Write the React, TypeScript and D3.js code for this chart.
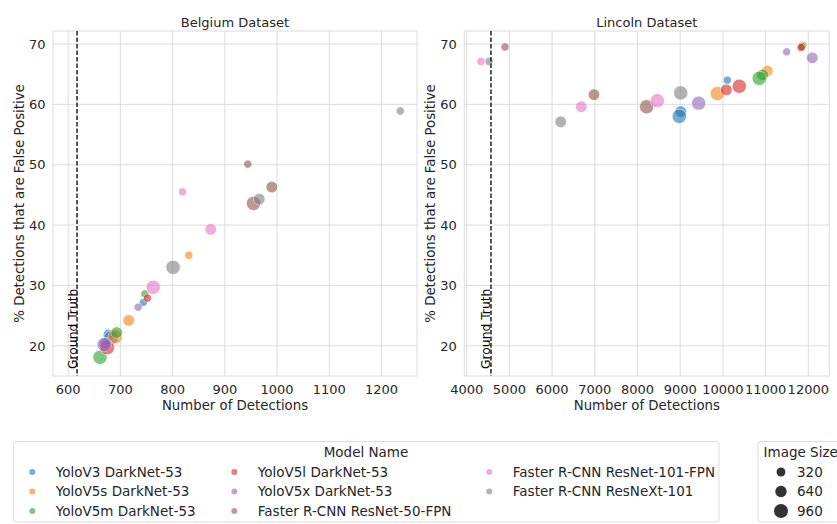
import React, { useEffect, useRef } from "react";
import * as d3 from "d3";

// Model names, legend order
const models = [
	"YoloV3 DarkNet-53",
	"YoloV5s DarkNet-53",
	"YoloV5m DarkNet-53",
	"YoloV5l DarkNet-53",
	"YoloV5x DarkNet-53",
	"Faster R-CNN ResNet-50-FPN",
	"Faster R-CNN ResNet-101-FPN",
	"Faster R-CNN ResNeXt-101",
];
const modelColors = ["#1f77b4", "#ff7f0e", "#2ca02c", "#d62728", "#9467bd", "#8c564b", "#e377c2", "#7f7f7f"];
const imageSizes = [320, 640, 960];

// Values per model, one entry per image size (320, 640, 960)
const belgiumDetections = [
	[744, 678, 682],
	[831, 716, 690],
	[747, 693, 661],
	[752, 672, 675],
	[734, 671, 669],
	[944, 990, 955],
	[819, 873, 763],
	[1236, 966, 801],
];
const belgiumFalsePos = [
	[27.2, 21.8, 21.3],
	[35.0, 24.2, 21.5],
	[28.6, 22.2, 18.1],
	[27.9, 20.0, 19.7],
	[26.4, 20.4, 20.2],
	[50.1, 46.3, 43.6],
	[45.5, 39.3, 29.7],
	[58.9, 44.3, 33.0],
];
const lincolnDetections = [
	[10103, 9012, 8979],
	[11876, 11040, 9869],
	[11852, 10932, 10852],
	[11830, 10080, 10384],
	[11494, 12094, 9433],
	[4897, 6981, 8215],
	[4335, 6684, 8464],
	[4522, 6201, 9012],
];
const lincolnFalsePos = [
	[64.0, 58.8, 58.0],
	[69.8, 65.5, 61.8],
	[69.6, 64.9, 64.3],
	[69.4, 62.4, 63.0],
	[68.7, 67.7, 60.2],
	[69.5, 61.6, 59.6],
	[67.1, 59.6, 60.6],
	[67.1, 57.1, 61.9],
];

const belgiumTruth = 617;
const lincolnTruth = 4569;

const belgiumTicks = [600, 700, 800, 900, 1000, 1100, 1200];
const lincolnTicks = [4000, 5000, 6000, 7000, 8000, 9000, 10000, 11000, 12000];
const yTicks = [20, 30, 40, 50, 60, 70];

const FONT = "DejaVu Sans, sans-serif";
const TEXT = "#262626";
const GRID = "#dcdcdc";

export default function App() {
	const ref = useRef<HTMLDivElement>(null);

	useEffect(() => {
		const w = 837;
		const h = 524;

		const svg = d3
			.select(ref.current)
			.html("")
			.append("svg")
			.attr("width", w)
			.attr("height", h)
			.style("display", "block")
			.style("background", "#fff")
			.style("font-family", FONT);

		const color = d3.scaleOrdinal<string, string>().domain(models).range(modelColors);
		const radius = d3.scaleSqrt().domain([0, 960]).range([0, 7.2]);
		const y = d3.scaleLinear().domain([15.0, 72.15]).range([376, 31]);

		const panels = [
			{
				title: "Belgium Dataset",
				x: d3.scaleLinear().domain([571, 1268]).range([53, 417]),
				ticks: belgiumTicks,
				det: belgiumDetections,
				fp: belgiumFalsePos,
				truth: belgiumTruth,
			},
			{
				title: "Lincoln Dataset",
				x: d3.scaleLinear().domain([3944, 12492]).range([464.3, 829.3]),
				ticks: lincolnTicks,
				det: lincolnDetections,
				fp: lincolnFalsePos,
				truth: lincolnTruth,
			},
		];

		panels.forEach((p) => {
			const [x0, x1] = p.x.range();
			const [y1, y0] = y.range();
			const g = svg.append("g");

			// grid
			g.selectAll(".vgrid")
				.data(p.ticks)
				.join("line")
				.attr("x1", (d) => p.x(d))
				.attr("x2", (d) => p.x(d))
				.attr("y1", y0)
				.attr("y2", y1)
				.attr("stroke", GRID)
				.attr("stroke-width", 1);
			g.selectAll(".hgrid")
				.data(yTicks)
				.join("line")
				.attr("x1", x0)
				.attr("x2", x1)
				.attr("y1", (d) => y(d))
				.attr("y2", (d) => y(d))
				.attr("stroke", GRID)
				.attr("stroke-width", 1);

			// frame
			g.append("rect")
				.attr("x", x0)
				.attr("y", y0)
				.attr("width", x1 - x0)
				.attr("height", y1 - y0)
				.attr("fill", "none")
				.attr("stroke", GRID)
				.attr("stroke-width", 1);

			// tick labels
			g.selectAll(".xt")
				.data(p.ticks)
				.join("text")
				.attr("x", (d) => p.x(d))
				.attr("y", 393.5)
				.attr("text-anchor", "middle")
				.attr("fill", TEXT)
				.style("font-size", "13px")
				.text((d) => String(d));
			g.selectAll(".yt")
				.data(yTicks)
				.join("text")
				.attr("x", x0 - 7.5)
				.attr("y", (d) => y(d) + 4.7)
				.attr("text-anchor", "end")
				.attr("fill", TEXT)
				.style("font-size", "13px")
				.text((d) => String(d));

			// axis labels
			g.append("text")
				.attr("x", (x0 + x1) / 2)
				.attr("y", 410)
				.attr("text-anchor", "middle")
				.attr("fill", TEXT)
				.style("font-size", "13.3px")
				.text("Number of Detections");
			g.append("text")
				.attr("transform", `translate(${x0 - 29.5}, ${(y0 + y1) / 2}) rotate(-90)`)
				.attr("text-anchor", "middle")
				.attr("fill", TEXT)
				.style("font-size", "13.3px")
				.text("% Detections that are False Positive");

			// title
			g.append("text")
				.attr("x", (x0 + x1) / 2)
				.attr("y", 27)
				.attr("text-anchor", "middle")
				.attr("fill", TEXT)
				.style("font-size", "13px")
				.text(p.title);

			// points
			const pts = p.det.flatMap((row, m) =>
				row.map((d, s) => ({ model: models[m], size: imageSizes[s], det: d, fp: p.fp[m][s] }))
			);
			g.append("g")
				.selectAll("circle")
				.data(pts)
				.join("circle")
				.attr("cx", (d) => p.x(d.det))
				.attr("cy", (d) => y(d.fp))
				.attr("r", (d) => radius(d.size))
				.attr("fill", (d) => color(d.model))
				.attr("stroke", "#fff")
				.attr("stroke-width", 0.8)
				.attr("opacity", 0.6);

			// ground truth line
			const gx = p.x(p.truth);
			g.append("line")
				.attr("x1", gx)
				.attr("x2", gx)
				.attr("y1", y0)
				.attr("y2", y1)
				.attr("stroke", "#000")
				.attr("stroke-width", 1.3)
				.attr("stroke-dasharray", "4.5,2");
			g.append("text")
				.attr("transform", `translate(${gx - 0.5}, ${y1 - 7}) rotate(-90)`)
				.attr("fill", "#000")
				.style("font-size", "12.3px")
				.text("Ground Truth");
		});

		// Model legend
		const leg = svg.append("g");
		leg.append("rect")
			.attr("x", 13.5)
			.attr("y", 441.5)
			.attr("width", 705.5)
			.attr("height", 80.5)
			.attr("rx", 3)
			.attr("fill", "#fff")
			.attr("stroke", GRID);
		leg.append("text")
			.attr("x", 366)
			.attr("y", 457)
			.attr("text-anchor", "middle")
			.attr("fill", TEXT)
			.style("font-size", "13.5px")
			.text("Model Name");
		const colX = [32.3, 234.3, 489.3];
		const rowY = [472, 491.5, 511];
		models.forEach((m, i) => {
			const c = Math.floor(i / 3);
			const r = i % 3;
			leg.append("circle")
				.attr("cx", colX[c])
				.attr("cy", rowY[r])
				.attr("r", 3)
				.attr("fill", color(m))
				.attr("opacity", 0.6);
			leg.append("text")
				.attr("x", colX[c] + 23.5)
				.attr("y", rowY[r] + 4.8)
				.attr("fill", TEXT)
				.style("font-size", "13.5px")
				.text(m);
		});

		// Image size legend
		const sl = svg.append("g");
		sl.append("rect")
			.attr("x", 758)
			.attr("y", 441.5)
			.attr("width", 100)
			.attr("height", 80.5)
			.attr("rx", 3)
			.attr("fill", "#fff")
			.attr("stroke", GRID);
		sl.append("text")
			.attr("x", 763.5)
			.attr("y", 457)
			.attr("fill", TEXT)
			.style("font-size", "13.5px")
			.text("Image Size");
		imageSizes.forEach((s, i) => {
			sl.append("circle")
				.attr("cx", 781)
				.attr("cy", rowY[i])
				.attr("r", radius(s) * 0.97 + (i === 0 ? 0.4 : 0))
				.attr("fill", "#333");
			sl.append("text")
				.attr("x", 797)
				.attr("y", rowY[i] + 4.8)
				.attr("fill", TEXT)
				.style("font-size", "13.5px")
				.text(String(s));
		});
	}, []);

	return <div ref={ref} style={{ position: "absolute", left: 0, top: 0 }}></div>;
}
